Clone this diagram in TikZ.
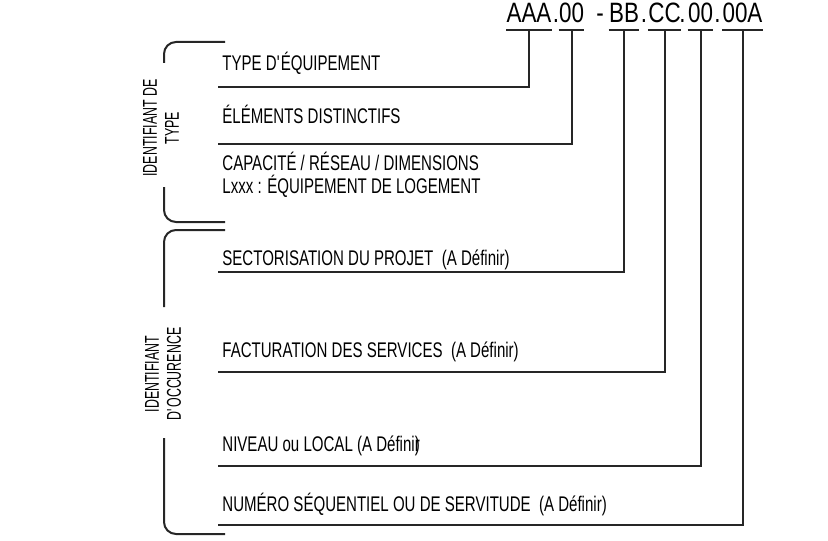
\documentclass[tikz,border=0pt]{standalone}
\usepackage{fontspec}
\setmainfont{Liberation Sans}[FakeStretch=0.71]
\newfontfamily\codefont{Liberation Sans}[FakeStretch=0.8]
\newfontfamily\sidefont{Liberation Sans}[FakeStretch=0.62]
\usetikzlibrary{positioning}

\tikzset{
  wire/.style={line width=1pt, black!85},
  lbl/.style={anchor=base west, inner sep=0pt, font=\fontsize{10.6}{12}\selectfont},
  code/.style={anchor=base, inner xsep=0pt, inner ysep=3.25pt, font=\codefont\fontsize{14}{16}\selectfont},
  side/.style={rotate=90, align=center, inner sep=0pt, font=\sidefont\fontsize{10}{11}\selectfont},
}

\begin{document}
\begin{tikzpicture}[x=0.5pt, y=-0.5pt]
      \useasboundingbox (0,0) rectangle (828,540);
      % code groups
      \node[code] (aaa) at (529,23) {AAA};
      \node[code] (dot1) at (556,23) {.};
      \node[code] (nn) at (571.5,23) {00};
      \node[code] (dash) at (600,23) {-};
      \node[code] (bb) at (624,23) {BB};
      \node[code] (dot2) at (644,23) {.};
      \node[code] (cc) at (664.5,23) {CC};
      \node[code] (dot3) at (682.5,23) {.};
      \node[code] (lv) at (700.5,23) {00};
      \node[code] (dot4) at (717.5,23) {.};
      \node[code] (seq) at (742.5,23) {00A};
      \foreach \g in {aaa,nn,bb,cc,lv,seq}
        \draw[wire] (\g.south west) -- (\g.south east);

      % labels
      \node[lbl] (type) at (222,70) {TYPE D\textquotesingle ÉQUIPEMENT};
      \node[lbl] (elem) at (222,123) {ÉLÉMENTS DISTINCTIFS};
      \node[lbl] (cap) at (222,170) {CAPACITÉ / RÉSEAU / DIMENSIONS};
      \node[lbl] (logt) at (222,193) {Lxxx : ÉQUIPEMENT DE LOGEMENT};
      \node[lbl] (sect) at (222,265) {SECTORISATION DU PROJET \ (A Définir)};
      \node[lbl] (fact) at (222,357) {FACTURATION DES SERVICES \ (A Définir)};
      \node[lbl] (niv) at (222,451) {NIVEAU ou LOCAL (A Défini\makebox[0pt][l]{r})};
      \node[lbl] (num) at (222,511) {NUMÉRO SÉQUENTIEL OU DE SERVITUDE \ (A Définir)};

      % line ends
      \coordinate (e1) at (218,87);
      \coordinate (e2) at (218,144);
      \coordinate (e3) at (218,272);
      \coordinate (e4) at (218,372);
      \coordinate (e5) at (218,466);
      \coordinate (e6) at (218,525);
      \draw[wire] (aaa.south) |- (e1);
      \draw[wire] (nn.south) |- (e2);
      \draw[wire] (bb.south) |- (e3);
      \draw[wire] (cc.south) |- (e4);
      \draw[wire] (lv.south) |- (e5);
      \draw[wire] (seq.south) |- (e6);

      % brackets
      \draw[wire, rounded corners=6pt] (225,42) -| (164,63);
      \draw[wire, rounded corners=6pt] (164,187) |- (225,222);
      \draw[wire, rounded corners=6pt] (225,230) -| (164,307);
      \draw[wire, rounded corners=6pt] (164,438) |- (225,534);
      \node[side] (idtype) at (161,128) {IDENTIFIANT DE\\TYPE};
      \node[side] (idocc) at (163,374) {IDENTIFIANT\\D\textquotesingle OCCURENCE};
\end{tikzpicture}
\end{document}
